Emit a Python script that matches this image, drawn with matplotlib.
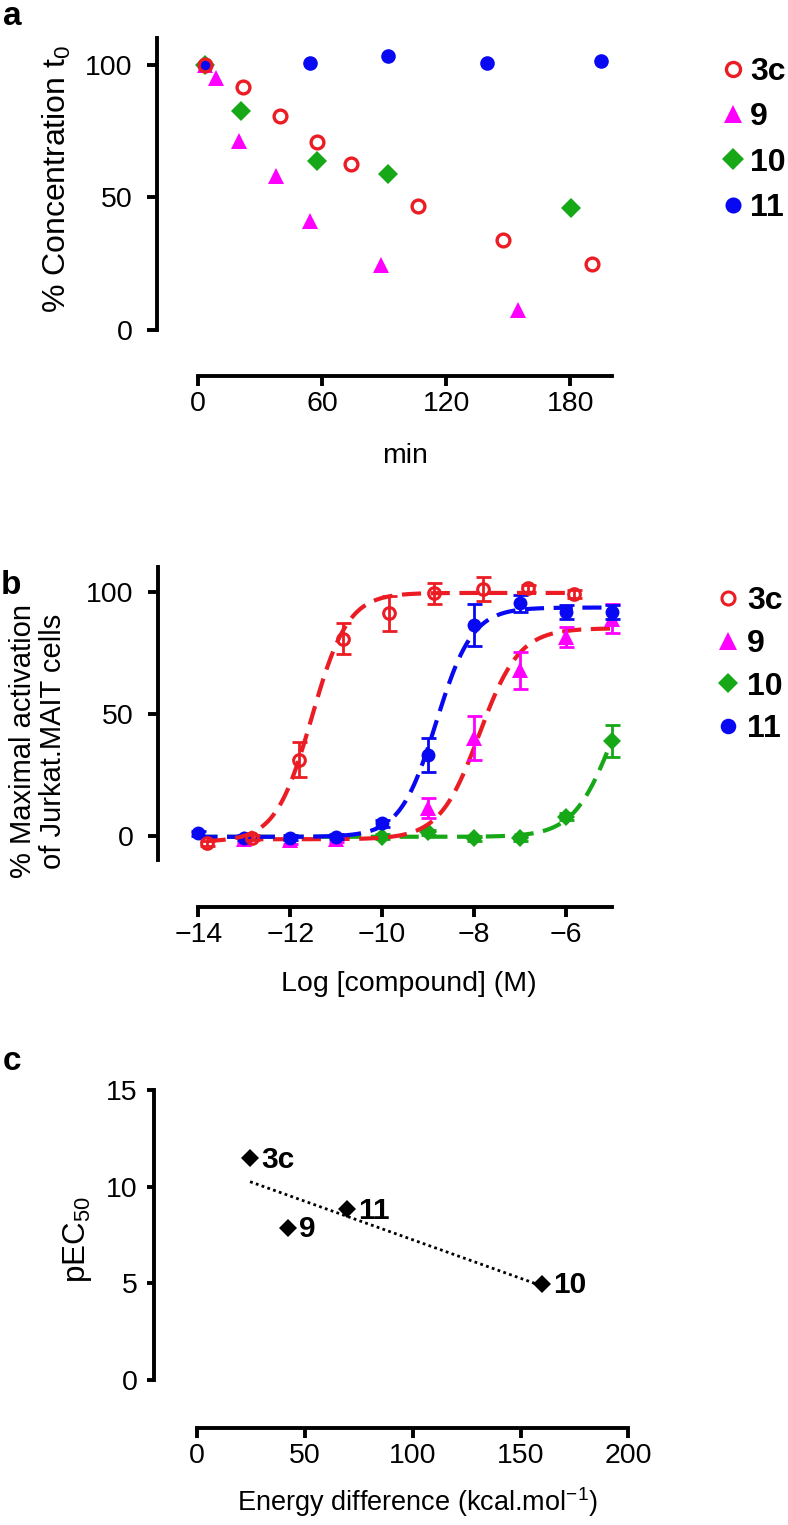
import numpy as np
import matplotlib
matplotlib.use('Agg')
import matplotlib.pyplot as plt

plt.rcParams['font.family'] = ['Liberation Sans', 'DejaVu Sans']
plt.rcParams['mathtext.fontset'] = 'custom'
plt.rcParams['mathtext.rm'] = 'Liberation Sans'
plt.rcParams['mathtext.it'] = 'Liberation Sans:italic'
plt.rcParams['mathtext.bf'] = 'Liberation Sans:bold'
plt.rcParams['mathtext.default'] = 'regular'

# ---------------- data ----------------
compounds = ['3c', '9', '10', '11']

# panel a: stability (% concentration of t0 vs min)
time_3c = [3, 21.7, 39.4, 57.3, 73.7, 106.2, 147.2, 190.3]
conc_3c = [100, 91.5, 80.6, 70.9, 62.7, 46.9, 34.0, 25.0]
time_9 = [3, 8.6, 19.5, 37.4, 53.9, 88.5, 154.9]
conc_9 = [100, 95.0, 71.2, 58.1, 41.2, 24.4, 7.5]
time_10 = [3, 20.6, 57.3, 91.7, 180.5]
conc_10 = [100, 82.7, 63.7, 58.7, 45.9]
time_11 = [3, 53.9, 91.7, 139.5, 195.0]
conc_11 = [100, 100.6, 103.5, 100.6, 101.5]

# panel b: dose response (% maximal activation)
logc_3c = [-13.82, -12.84, -11.81, -10.84, -9.84, -8.86, -7.81, -6.83, -5.82]
act_3c = [-3.2, -0.8, 31.2, 80.8, 91.1, 99.3, 101.0, 101.4, 99.1]
err_3c = [1.0, 1.0, 7.0, 6.5, 7.2, 4.4, 5.0, 1.5, 1.5]
logc_9 = [-13, -12, -11, -9, -8, -7, -6, -5]
act_9 = [-1.5, -2.0, -1.5, 11.3, 40.2, 67.7, 81.4, 89.0]
err_9 = [1.0, 1.5, 1.0, 4.0, 9.0, 7.5, 4.0, 6.0]
logc_10 = [-10, -9, -8, -7, -6, -5]
act_10 = [-0.5, 1.4, -1.1, -1.1, 7.8, 38.8]
err_10 = [1.0, 1.0, 1.0, 1.0, 1.5, 6.6]
logc_11 = [-14, -13, -12, -11, -10, -9, -8, -7, -6, -5]
act_11 = [0.9, -0.8, -0.8, -0.4, 5.1, 33.0, 86.5, 95.2, 91.7, 91.7]
err_11 = [1.0, 1.0, 1.0, 1.0, 1.5, 7.0, 8.6, 3.5, 3.0, 3.0]

# fitted 4-parameter logistic curves: bottom, top, logEC50, hill
fit_3c = (-2.5, 99.5, -11.53, 1.1)
fit_9 = (-1.5, 85.0, -7.88, 1.0)
fit_10 = (-0.5, 81.0, -4.97, 1.0)
fit_11 = (-0.5, 93.5, -8.82, 1.1)

# panel c: pEC50 vs energy difference
energy = [24.5, 42.2, 69.6, 159.8]
pec50 = [11.47, 7.88, 8.82, 4.97]
energy_labels = ['3c', '9', '11', '10']

# ---------------- style ----------------
RED = '#EC1C24'
MAG = '#FF00FF'
GRN = '#16A816'
BLU = '#0808F2'
W, H = 788, 1525
SPW = 2.8
FS = 20.5      # horizontal tick / axis text
FSV = 23       # vertical axis titles
FSL = 23       # legend

def fx(px):
    return px / W

def fy(py):
    return 1 - py / H

def rect(x0, x1, ytop, ybot):
    return [fx(x0), fy(ybot), (x1 - x0) / W, (ybot - ytop) / H]

def style_axes(ax, left_out, bottom_out, ylen=7, ypad=10, xlen=7, xpad=4):
    for s in ['top', 'right']:
        ax.spines[s].set_visible(False)
    ax.spines['left'].set_position(('outward', left_out))
    ax.spines['bottom'].set_position(('outward', bottom_out))
    for s in ['left', 'bottom']:
        ax.spines[s].set_linewidth(SPW)
        ax.spines[s].set_capstyle('projecting')
    ax.tick_params(axis='both', direction='out', width=SPW, labelsize=FS, colors='black')
    ax.tick_params(axis='y', pad=ypad, length=ylen)
    ax.tick_params(axis='x', pad=xpad, length=xlen)
    ax.patch.set_visible(False)

def logistic(x, p):
    b, t, ec, h = p
    return b + (t - b) / (1 + 10 ** ((ec - np.asarray(x)) * h))

fig = plt.figure(figsize=(W / 100, H / 100), dpi=100)

# ---------------- panel a ----------------
axa = fig.add_axes(rect(198.3, 611.7, 38.3, 330))
style_axes(axa, 29.7, 32.9, ypad=10.5)
axa.set_xlim(0, 200)
axa.set_ylim(0, 110)
axa.set_xticks([0, 60, 120, 180])
axa.set_yticks([0, 50, 100])
h9, = axa.plot(time_9, conc_9, ls='none', marker='^', ms=12, mew=0, color=MAG, clip_on=False)
h10, = axa.plot(time_10, conc_10, ls='none', marker='D', ms=10, mew=0, color=GRN, clip_on=False)
h11, = axa.plot(time_11, conc_11, ls='none', marker='o', ms=10.5, mew=0, color=BLU, clip_on=False)
h3c, = axa.plot(time_3c, conc_3c, ls='none', marker='o', ms=9.2, mew=2.4, mfc='none', mec=RED, clip_on=False)
axa.legend([h3c, h9, h10, h11], compounds, loc='upper left',
           bbox_to_anchor=(fx(720), fy(57)), bbox_transform=fig.transFigure,
           frameon=False, borderpad=0, borderaxespad=0, handlelength=0.8,
           handletextpad=0.14, labelspacing=0.48, markerscale=1.1,
           prop={'weight': 'bold', 'size': FSL})

fig.text(fx(57), fy(179), '% Concentration t$_0$', rotation=90, ha='center', va='center', fontsize=FSV)
fig.text(fx(405), fy(463), 'min', ha='center', va='baseline', fontsize=FS)
fig.text(fx(3), fy(25), 'a', ha='left', va='baseline', fontsize=24, fontweight='bold')

# ---------------- panel b ----------------
axb = fig.add_axes(rect(198.3, 611.7, 567.3, 860))
style_axes(axb, 29.0, 33.6, ypad=10.5)
axb.set_xlim(-14, -5)
axb.set_ylim(-10, 110)
axb.set_xticks([-14, -12, -10, -8, -6])
axb.set_yticks([0, 50, 100])

xx10 = np.linspace(-14, -5, 300)
xx9 = np.linspace(-13, -5, 300)
xx11 = np.linspace(-14, -5, 300)
xx3c = np.linspace(-13.82, -5.82, 300)
dash = dict(lw=3.0, dashes=(4.6, 2.3))
ebk = dict(fmt='none', elinewidth=2.0, capsize=5.4, capthick=2.0, clip_on=False)

axb.plot(xx10, logistic(xx10, fit_10), color=GRN, **dash)
axb.errorbar(logc_10, act_10, yerr=err_10, ecolor=GRN, **ebk)
b10, = axb.plot(logc_10, act_10, ls='none', marker='D', ms=9, mew=0, color=GRN, clip_on=False)

axb.plot(xx9, logistic(xx9, fit_9), color=RED, **dash)
axb.errorbar(logc_9, act_9, yerr=err_9, ecolor=MAG, **ebk)
b9, = axb.plot(logc_9, act_9, ls='none', marker='^', ms=11, mew=0, color=MAG, clip_on=False)

axb.plot(xx11, logistic(xx11, fit_11), color=BLU, **dash)
axb.errorbar(logc_11, act_11, yerr=err_11, ecolor=BLU, **ebk)
b11, = axb.plot(logc_11, act_11, ls='none', marker='o', ms=10, mew=0, color=BLU, clip_on=False)

axb.plot(xx3c, logistic(xx3c, fit_3c), color=RED, **dash)
axb.errorbar(logc_3c, act_3c, yerr=err_3c, ecolor=RED, **ebk)
b3c, = axb.plot(logc_3c, act_3c, ls='none', marker='o', ms=8.4, mew=2.2, mfc='none', mec=RED, clip_on=False)

axb.legend([b3c, b9, b10, b11], compounds, loc='upper left',
           bbox_to_anchor=(fx(715.5), fy(586)), bbox_transform=fig.transFigure,
           frameon=False, borderpad=0, borderaxespad=0, handlelength=0.8,
           handletextpad=0.18, labelspacing=0.40, markerscale=1.12,
           prop={'weight': 'bold', 'size': FSL})

fig.text(fx(38), fy(741), '% Maximal activation\nof Jurkat.MAIT cells', rotation=90,
         ha='center', va='center', multialignment='center', fontsize=21, linespacing=1.05)
fig.text(fx(409), fy(991), 'Log [compound] (M)', ha='center', va='baseline', fontsize=FS)
fig.text(fx(1), fy(594), 'b', ha='left', va='baseline', fontsize=24, fontweight='bold')

# ---------------- panel c ----------------
axc = fig.add_axes(rect(197.3, 628.3, 1090, 1380))
style_axes(axc, 31.2, 34.6, ylen=5, ypad=7)
axc.set_xlim(0, 200)
axc.set_ylim(0, 15)
axc.set_xticks([0, 50, 100, 150, 200])
axc.set_yticks([0, 5, 10, 15])

slope, icpt = np.polyfit(energy, pec50, 1)
xl = np.array([min(energy), max(energy)])
axc.plot(xl, slope * xl + icpt, color='black', lw=2.0, ls=(0, (1, 1.2)))
axc.plot(energy, pec50, ls='none', marker='D', ms=9.5, mew=0, color='black', clip_on=False)
for xv, yv, lab in zip(energy, pec50, energy_labels):
    axc.annotate(lab, (xv, yv), xytext=(8, -1), textcoords='offset points',
                 ha='left', va='center', fontsize=21.5, fontweight='bold')

fig.text(fx(78), fy(1240), 'pEC$_{50}$', rotation=90, ha='center', va='center', fontsize=22.5)
fig.text(fx(417), fy(1511), 'Energy difference (kcal.mol$^{-1}$)', ha='center', va='baseline', fontsize=19.5)
fig.text(fx(3), fy(1070), 'c', ha='left', va='baseline', fontsize=24, fontweight='bold')

fig.savefig('out.png', dpi=100)
